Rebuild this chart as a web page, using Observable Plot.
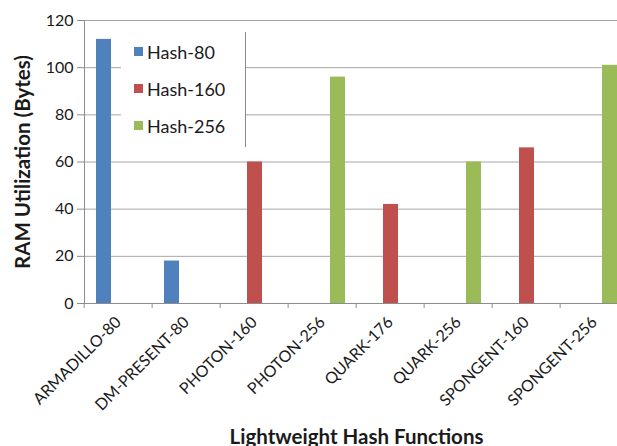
<!DOCTYPE html>
<html>
<head>
<meta charset="utf-8">
<script src="https://cdn.jsdelivr.net/npm/d3@7"></script>
<script src="https://cdn.jsdelivr.net/npm/@observablehq/plot@0.6"></script>
<style>
  html, body { margin: 0; padding: 0; background: #fff; }
  #chart { position: relative; width: 617px; height: 446px; overflow: hidden; font-family: Lato, "Open Sans", sans-serif; }
  #chart > svg { position: absolute; left: 0; top: 0; max-width: none; }
  g[aria-label="y-axis label"] text,
  g[aria-label="fx-axis label"] text { font-weight: bold; font-size: 20.5px; fill: #1a1a1a; }
  #key { position: absolute; left: 121px; top: 32px; width: 124px; height: 115px; background: #fff; border-right: 1.5px solid #8a8a8a; }
  #key .key-swatches { margin: 0 !important; padding: 1px 0 0 13px; font-size: 18px; font-family: Lato, sans-serif; color: #1a1a1a; }
  #key div.key-swatches-columns .key-swatch { height: 37px; padding-bottom: 0; margin: 0; }
  #key .key-swatch svg { margin-right: 4px !important; }
</style>
</head>
<body>
<div id="chart"><div id="key"></div></div>
<script>
// Lightweight hash functions and the RAM each one needs (bytes)
const categories = ["ARMADILLO-80", "DM-PRESENT-80", "PHOTON-160", "PHOTON-256",
                    "QUARK-176", "QUARK-256", "SPONGENT-160", "SPONGENT-256"];
const hashSeries = ["Hash-80", "Hash-80", "Hash-160", "Hash-256",
                    "Hash-160", "Hash-256", "Hash-160", "Hash-256"];
const ramBytes = [112, 18, 60, 96, 42, 60, 66, 101];

const seriesNames = ["Hash-80", "Hash-160", "Hash-256"];
const seriesColors = ["#4F81BD", "#C0504D", "#9BBB59"];
const yTicks = [0, 20, 40, 60, 80, 100, 120];

const rows = categories.map((name, i) => ({name, series: hashSeries[i], ram: ramBytes[i]}));

const width = 631;
const marginLeft = 81;
const step = (width - marginLeft) / categories.length;
const axisGray = "#8c8c8c";

const chart = Plot.plot({
  width,
  height: 446,
  marginTop: 20,
  marginBottom: 143,
  marginLeft,
  marginRight: 0,
  style: {fontFamily: "Lato, sans-serif", color: "#1a1a1a", background: "transparent", overflow: "visible", maxWidth: "none"},
  fx: {domain: categories, padding: 0},
  x: {domain: seriesNames, paddingInner: 0, paddingOuter: 0.75, axis: null},
  y: {domain: [0, 120]},
  color: {domain: seriesNames, range: seriesColors},
  marks: [
    Plot.gridY(yTicks, {stroke: "#a6a6a6", strokeOpacity: 1}),
    Plot.ruleY([0], {stroke: axisGray}),
    Plot.barY(rows, {fx: "name", x: "series", y: "ram", fill: "series"}),
    Plot.frame({anchor: "left", stroke: axisGray, facetAnchor: "left"}),
    Plot.axisY(yTicks, {
      tickSize: 7, tickPadding: 4, fontSize: 16, stroke: axisGray,
      label: "RAM Utilization (Bytes)", labelAnchor: "center", labelArrow: "none", labelOffset: 69
    }),
    Plot.axisFx({
      anchor: "bottom", tickSize: 0, tickRotate: -45, fontSize: 16, tickPadding: 16,
      label: "Lightweight Hash Functions", labelAnchor: "center", labelArrow: "none", labelOffset: 140
    }),
    // category boundary ticks
    Plot.axisFx({anchor: "bottom", tickSize: 5, tickFormat: () => "", label: null, dx: -step / 2, stroke: axisGray})
  ]
});
document.getElementById("chart").prepend(chart);

const key = Plot.legend({
  color: {domain: seriesNames, range: seriesColors},
  legend: "swatches", columns: 1, swatchSize: 9, className: "key"
});
document.getElementById("key").appendChild(key);
</script>
</body>
</html>
